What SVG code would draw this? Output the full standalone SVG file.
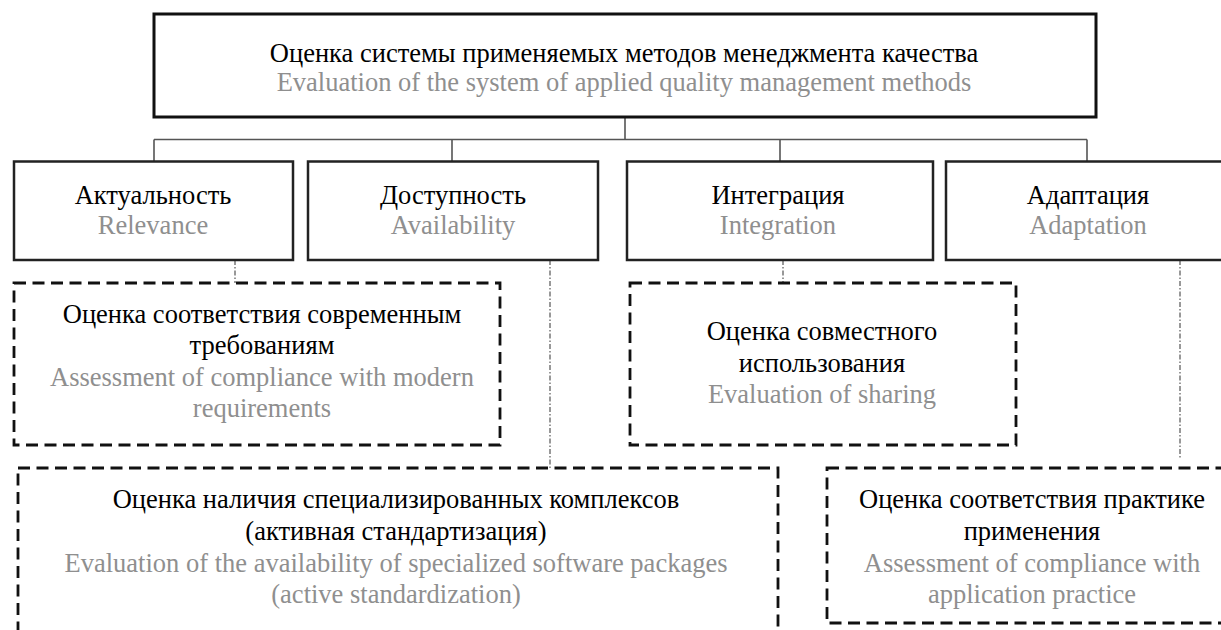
<svg xmlns="http://www.w3.org/2000/svg" width="1221" height="630" viewBox="0 0 1221 630">
<style>
.ru{font-family:"Liberation Serif","Times New Roman",serif;font-size:26.5px;fill:#000;text-anchor:middle}
.en{font-family:"Liberation Serif","Times New Roman",serif;font-size:26.5px;fill:#8f8f8f;text-anchor:middle}
.main{fill:#fff;stroke:#111;stroke-width:3}
.cat{fill:#fff;stroke:#222;stroke-width:2.5}
.dash{fill:#fff;stroke:#111;stroke-width:2.8;stroke-dasharray:12 6.5}
.tree{fill:none;stroke:#555;stroke-width:1.6}
.dot{fill:none;stroke:#777;stroke-width:1.5;stroke-dasharray:5 2 1.5 2}
</style>
<rect width="1221" height="630" fill="#fff"/>
<g id="connectors">
<path class="tree" d="M625 117V139.5M154 139.5H1087M154 139.5V161M452 139.5V161M780 139.5V161M1087 139.5V161"/>
<path class="dot" d="M235 260V283M550 260V468M783 260V283M1180 260V458"/>
</g>
<g id="root">
<rect class="main" x="154" y="14" width="942" height="103"/>
<text class="ru" x="624" y="62">Оценка системы применяемых методов менеджмента качества</text>
<text class="en" x="624" y="91">Evaluation of the system of applied quality management methods</text>
</g>
<g id="relevance">
<rect class="cat" x="14" y="161.5" width="279" height="98.5"/>
<text class="ru" x="153" y="203.5">Актуальность</text>
<text class="en" x="153" y="234">Relevance</text>
</g>
<g id="availability">
<rect class="cat" x="308" y="161.5" width="290" height="98.5"/>
<text class="ru" x="453" y="203.5">Доступность</text>
<text class="en" x="453" y="234">Availability</text>
</g>
<g id="integration">
<rect class="cat" x="627" y="161.5" width="306" height="98.5"/>
<text class="ru" x="778" y="203.5">Интеграция</text>
<text class="en" x="778" y="234">Integration</text>
</g>
<g id="adaptation">
<rect class="cat" x="946" y="161.5" width="290" height="98.5"/>
<text class="ru" x="1088" y="203.5">Адаптация</text>
<text class="en" x="1088" y="234">Adaptation</text>
</g>
<g id="compliance-modern">
<rect class="dash" x="14" y="283" width="486" height="162"/>
<text class="ru" x="262" y="323">Оценка соответствия современным</text>
<text class="ru" x="262" y="354">требованиям</text>
<text class="en" x="262" y="386">Assessment of compliance with modern</text>
<text class="en" x="262" y="417">requirements</text>
</g>
<g id="sharing">
<rect class="dash" x="630" y="283" width="386" height="162"/>
<text class="ru" x="822" y="340">Оценка совместного</text>
<text class="ru" x="822" y="371.5">использования</text>
<text class="en" x="822" y="403">Evaluation of sharing</text>
</g>
<g id="software-packages">
<rect class="dash" x="18" y="468" width="760" height="220"/>
<text class="ru" x="396" y="508">Оценка наличия специализированных комплексов</text>
<text class="ru" x="396" y="540">(активная стандартизация)</text>
<text class="en" x="396" y="572">Evaluation of the availability of specialized software packages</text>
<text class="en" x="396" y="603">(active standardization)</text>
</g>
<g id="application-practice">
<rect class="dash" x="827" y="468" width="420" height="155"/>
<text class="ru" x="1032" y="508">Оценка соответствия практике</text>
<text class="ru" x="1032" y="540">применения</text>
<text class="en" x="1032" y="572">Assessment of compliance with</text>
<text class="en" x="1032" y="603">application practice</text>
</g>
</svg>
